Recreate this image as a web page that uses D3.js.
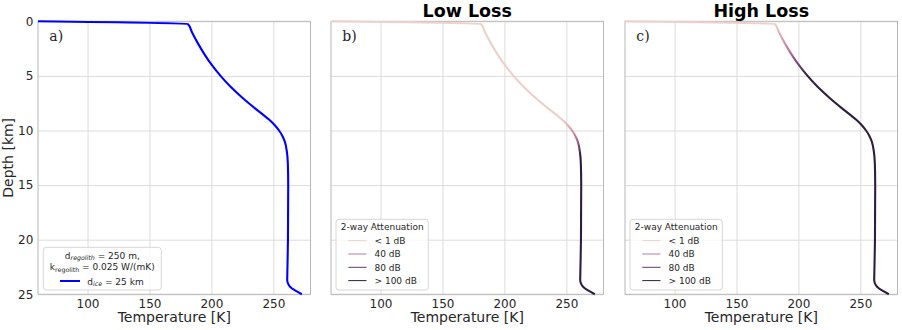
<!DOCTYPE html>
<html><head><meta charset="utf-8">
<script src="https://cdn.jsdelivr.net/npm/d3@7"></script>
<style>
html,body{margin:0;padding:0;background:#fff;}
svg{display:block;font-family:"DejaVu Sans",sans-serif;}
</style></head>
<body><svg id="chart" width="902" height="330"></svg>
<script>
// ---- data ----
const tempTicks = [100, 150, 200, 250];
const depthTicks = [0, 5, 10, 15, 20, 25];
const tempDomain = [60, 280];
const depthDomain = [0, 25];

// temperature profile (same in all panels)
const depthKm = [0, 0.25, 1, 2, 3, 4, 5, 6, 7, 8, 9, 9.5, 10, 10.5, 11, 12, 13, 15, 20, 22.5, 23.7, 24.0, 24.3, 24.65, 25];
const tempK   = [60, 181, 184.3, 189, 194.3, 200.3, 207.4, 215.5, 225, 235.5, 246.5, 251, 254.6, 257.3, 259.2, 261, 261.7, 262, 261.8, 261.4, 261.2, 261.8, 263.5, 267.5, 273];

// cumulative 2-way attenuation vs depth
const lowAttDepth  = [0, 9.0, 9.8, 10.6, 11.4, 12.3, 25];
const lowAttDb     = [0, 1, 20, 40, 70, 100, 100];
const highAttDepth = [0, 0.3, 1.5, 2.6, 3.8, 5.0, 25];
const highAttDb    = [0, 1, 20, 40, 70, 100, 100];

const legendLabels = ["< 1 dB", "40 dB", "80 dB", "> 100 dB"];
const legendDb = [0, 40, 80, 100];

const panelLabels = ["a)", "b)", "c)"];
const panelTitles = ["", "Low Loss", "High Loss"];

// ---- seaborn-like cubehelix colormap (light -> dark) ----
function cubehelix(x) {
  const start = 0, rot = 0.4, hue = 0.8;
  const a = hue * x * (1 - x) / 2;
  const phi = 2 * Math.PI * (start / 3 + rot * x);
  const f = (p0, p1) => Math.max(0, Math.min(1, x + a * (p0 * Math.cos(phi) + p1 * Math.sin(phi))));
  return d3.rgb(255 * f(-0.14861, 1.78277), 255 * f(-0.29227, -0.90649), 255 * f(1.97294, 0)).formatHex();
}
const attColor = db => cubehelix(0.85 - 0.7 * Math.min(db, 100) / 100);

// ---- layout ----
const svg = d3.select("#chart");
const panelX = [38, 331, 625];
const pw = 272.5, yTop = 21.3, yBot = 294.3;
const gridCol = "#dcdcdc", spineCol = "#b8b8b8", textCol = "#262626";

const y = d3.scaleLinear().domain(depthDomain).range([yTop, yBot]);
const profile = depthKm.map((z, i) => ({z, T: tempK[i]}));

const defs = svg.append("defs");

panelX.forEach((x0, p) => {
  const x = d3.scaleLinear().domain(tempDomain).range([x0, x0 + pw]);
  const g = svg.append("g");

  // vertical grid + x tick labels
  const gx = g.append("g").attr("transform", `translate(0,${yBot})`)
    .call(d3.axisBottom(x).tickValues(tempTicks).tickSize(-(yBot - yTop)).tickPadding(5.2));
  gx.select(".domain").remove();
  gx.selectAll("line").attr("stroke", gridCol).attr("stroke-width", 1);
  gx.selectAll("text").attr("font-size", 12).attr("fill", textCol).attr("font-family", "DejaVu Sans");

  // horizontal grid (+ labels for first panel)
  const ax = d3.axisLeft(y).tickValues(depthTicks).tickSize(-pw).tickPadding(4.7);
  if (p > 0) ax.tickFormat("");
  const gy = g.append("g").attr("transform", `translate(${x0},0)`).call(ax);
  gy.select(".domain").remove();
  gy.selectAll("line").attr("stroke", gridCol).attr("stroke-width", 1);
  gy.selectAll("text").attr("font-size", 12).attr("fill", textCol).attr("font-family", "DejaVu Sans");

  // spines
  g.append("rect").attr("x", x0).attr("y", yTop).attr("width", pw).attr("height", yBot - yTop)
    .attr("fill", "none").attr("stroke", spineCol).attr("stroke-width", 1);

  // clip
  defs.append("clipPath").attr("id", "clip" + p).append("rect")
    .attr("x", x0).attr("y", yTop - 2).attr("width", pw).attr("height", yBot - yTop + 4);

  // curve colour
  let stroke = "#0000ff";
  if (p > 0) {
    const ad = p === 1 ? lowAttDepth : highAttDepth;
    const av = p === 1 ? lowAttDb : highAttDb;
    const grad = defs.append("linearGradient").attr("id", "grad" + p)
      .attr("gradientUnits", "userSpaceOnUse")
      .attr("x1", 0).attr("x2", 0).attr("y1", y(depthDomain[0])).attr("y2", y(depthDomain[1]));
    ad.forEach((z, i) => {
      grad.append("stop").attr("offset", (z - depthDomain[0]) / (depthDomain[1] - depthDomain[0]))
        .attr("stop-color", attColor(av[i]));
    });
    stroke = `url(#grad${p})`;
  }
  const line = d3.line().x(d => x(d.T)).y(d => y(d.z)).curve(d3.curveMonotoneY);
  g.append("path").datum(profile).attr("d", line).attr("fill", "none")
    .attr("stroke", stroke).attr("stroke-width", 2.1).attr("clip-path", `url(#clip${p})`);

  // panel label
  g.append("text").attr("x", x0 + 11.3).attr("y", 40.5).attr("font-family", "DejaVu Serif")
    .attr("font-size", 14).attr("fill", textCol).text(panelLabels[p]);

  // title
  if (panelTitles[p]) {
    g.append("text").attr("x", x0 + pw / 2).attr("y", 16.5).attr("text-anchor", "middle")
      .attr("font-weight", "bold").attr("font-size", 17.5).attr("fill", "#000").text(panelTitles[p]);
  }

  // x label
  g.append("text").attr("x", x0 + pw / 2).attr("y", 322.3).attr("text-anchor", "middle")
    .attr("font-size", 14).attr("fill", textCol).text("Temperature [K]");

  // legends
  if (p === 0) {
    const lg = g.append("g");
    lg.append("rect").attr("x", 43.3).attr("y", 247.3).attr("width", 118).attr("height", 42.7)
      .attr("rx", 3).attr("fill", "#fff").attr("fill-opacity", 0.8).attr("stroke", "#d6d6d6");
    const row = (yy, main, sub, rest, italic) => {
      const t = lg.append("text").attr("x", 102.3).attr("y", yy).attr("text-anchor", "middle")
        .attr("font-size", 9).attr("fill", textCol);
      t.append("tspan").text(main);
      t.append("tspan").attr("font-size", 6.3).attr("dy", 1.8).attr("font-style", italic ? "italic" : "normal").text(sub);
      t.append("tspan").attr("dy", -1.8).text(rest);
    };
    row(258.5, "d", "regolith", " = 250 m,", true);
    row(270.2, "k", "regolith", " = 0.025 W/(mK)", false);
    lg.append("line").attr("x1", 60).attr("x2", 80).attr("y1", 281).attr("y2", 281)
      .attr("stroke", "#0000ff").attr("stroke-width", 2);
    const t3 = lg.append("text").attr("x", 87.3).attr("y", 284.5).attr("font-size", 9).attr("fill", textCol);
    t3.append("tspan").text("d");
    t3.append("tspan").attr("font-size", 6.3).attr("dy", 1.8).attr("font-style", "italic").text("ice");
    t3.append("tspan").attr("dy", -1.8).text(" = 25 km");
  } else {
    const bx = x0 + 5;
    const lg = g.append("g");
    lg.append("rect").attr("x", bx).attr("y", 219.3).attr("width", 92.3).attr("height", 70.7)
      .attr("rx", 3).attr("fill", "#fff").attr("fill-opacity", 0.8).attr("stroke", "#d6d6d6");
    lg.append("text").attr("x", bx + 46.2).attr("y", 230.3).attr("text-anchor", "middle")
      .attr("font-size", 9).attr("fill", textCol).text("2-way Attenuation");
    legendLabels.forEach((lab, i) => {
      const yy = 240.7 + 13.3 * i;
      lg.append("line").attr("x1", bx + 12.3).attr("x2", bx + 30.5).attr("y1", yy).attr("y2", yy)
        .attr("stroke", attColor(legendDb[i])).attr("stroke-width", 1);
      lg.append("text").attr("x", bx + 38.5).attr("y", yy + 3.3).attr("font-size", 9)
        .attr("fill", textCol).text(lab);
    });
  }
});

// y label
svg.append("text").attr("transform", `translate(13,${(yTop + yBot) / 2}) rotate(-90)`)
  .attr("text-anchor", "middle").attr("font-size", 14).attr("fill", textCol).text("Depth [km]");
</script></body></html>
